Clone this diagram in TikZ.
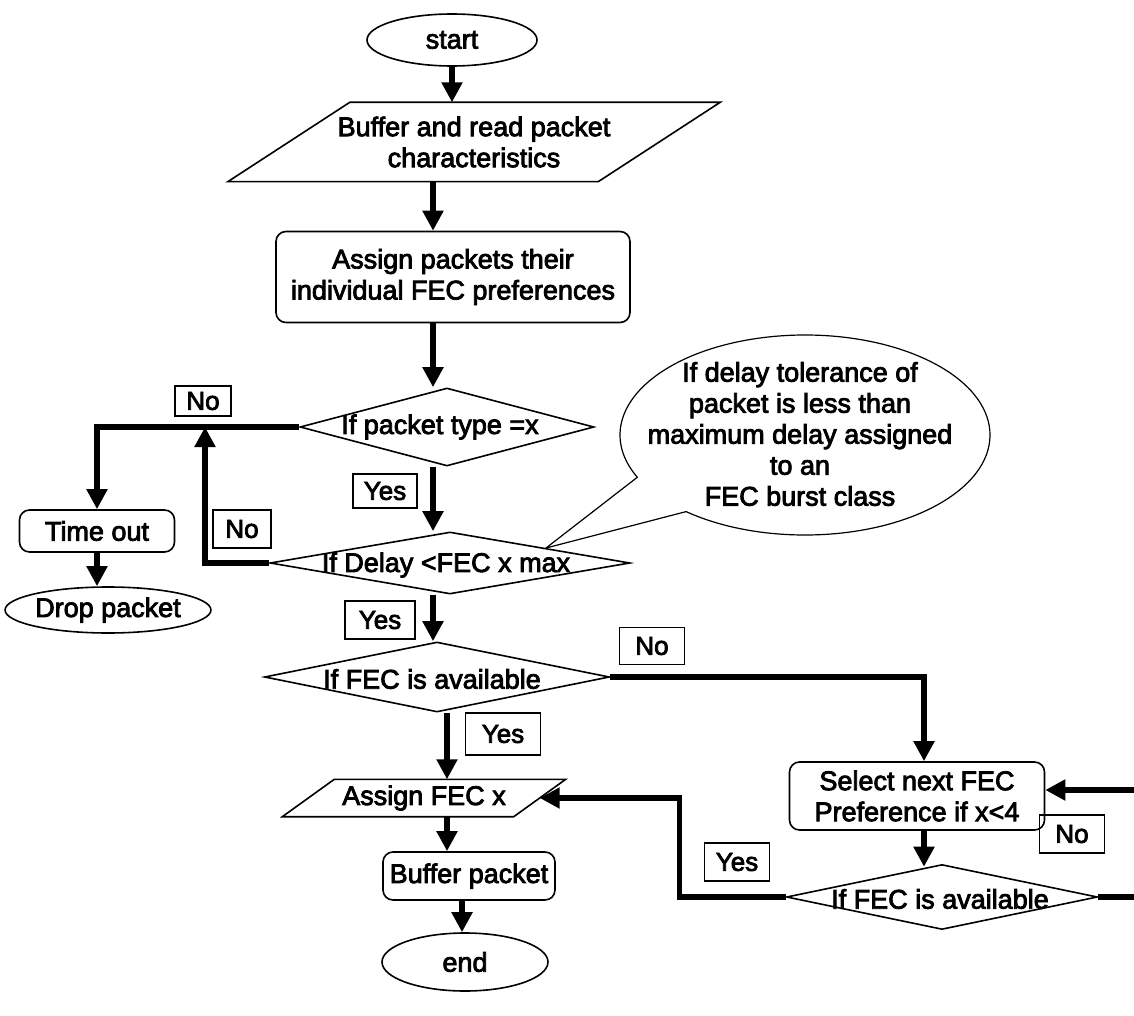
\documentclass[tikz,border=0pt]{standalone}
\usepackage{fontspec}
\setmainfont{Liberation Sans}[FakeBold=3]
\usetikzlibrary{shapes.geometric,arrows.meta,calc}
\begin{document}
\begin{tikzpicture}[x=1pt,y=-1pt,
  txt/.style={font=\fontsize{27}{31}\selectfont, align=center, inner sep=0pt},
  shp/.style={draw, line width=1.6pt},
  rbox/.style={shp, txt, rounded corners=10pt},
  ell/.style={shp, txt, ellipse},
  dia/.style={shp, diamond, inner sep=0pt},
  conn/.style={line width=5.5pt, -{Triangle[length=20pt,width=20pt]}},
  lbl/.style={draw, line width=1.2pt, inner sep=0pt, font=\fontsize{26}{30}\selectfont}
]
\clip (0,0) rectangle (1134,1016);
\fill[white] (0,0) rectangle (1134,1016);

% column coordinates
\coordinate (col1) at (433,0);
\coordinate (col2) at (447,0);
\coordinate (col3) at (462,0);
\coordinate (col4) at (924,0);
\coordinate (j1) at (205,427);

% nodes
\node[ell, minimum width=170pt, minimum height=52pt] (start) at (452,40) {start};

\node[txt, minimum width=370pt, minimum height=79pt] (buf) at (474,142) {Buffer and read packet\\characteristics};
\draw[shp] ([xshift=-61pt]buf.south west) -- ([xshift=61pt]buf.north west) -- ([xshift=61pt]buf.north east) -- ([xshift=-61pt]buf.south east) -- cycle;

\node[rbox, minimum width=354pt, minimum height=91pt] (assign) at (453,277) {Assign packets their\\individual FEC preferences};

\node[dia, minimum width=294pt, minimum height=78pt] (dia1) at (447,427) {};
\node[txt] (dia1t) at (440,427) {If packet type =x};

\node[dia, minimum width=360pt, minimum height=62pt] (dia2) at (450,563) {};
\node[txt] (dia2t) at (446,565) {If Delay <FEC x max};

\node[dia, minimum width=345pt, minimum height=70pt] (dia3) at (437,677) {};
\node[txt] (dia3t) at (432,679) {If FEC is available};

\node[rbox, minimum width=155pt, minimum height=42pt] (timeout) at (97,531) {Time out};
\node[ell, minimum width=195pt, minimum height=46pt] (drop) at (108,610) {Drop packet};

\node[txt, minimum width=231pt, minimum height=37pt] (afec) at (424,798) {Assign FEC x};
\draw[shp] ([xshift=-26pt]afec.south west) -- ([xshift=26pt]afec.north west) -- ([xshift=26pt]afec.north east) -- ([xshift=-26pt]afec.south east) -- cycle;

\node[rbox, minimum width=172pt, minimum height=48pt] (bufp) at (469,876) {Buffer packet};
\node[ell, minimum width=166pt, minimum height=58pt] (endn) at (465,962) {end};

\node[rbox, minimum width=255pt, minimum height=68pt] (select) at (917,796) {Select next FEC\\Preference if x<4};

\node[dia, minimum width=311pt, minimum height=65pt] (dia4) at (942,897) {};
\node[txt] (dia4t) at (940,899) {If FEC is available};

% callout
\coordinate (tip) at (546,548);
\draw[shp, line width=1.2pt, fill=white] (tip) -- ($(805,435)+({185*cos(130)},{100*sin(130)})$)
  arc[start angle=130, end angle=-205, x radius=185, y radius=100] -- cycle;
\node[txt] (callt) at (800,434) {If delay tolerance of\\packet is less than\\maximum delay assigned\\to an\\FEC burst class};

% connectors
\draw[conn] (start.south) -- (start.south |- buf.north);
\draw[conn] (col1 |- buf.south) -- (col1 |- assign.north);
\draw[conn] (col1 |- assign.south) -- (col1 |- dia1.north);
\draw[conn] (col1 |- dia1.south) -- (col1 |- dia2.north);
\draw[conn] (col1 |- dia2.south) -- (col1 |- dia3.north);
\draw[conn] (col2 |- dia3.south) -- (col2 |- afec.north);
\draw[conn] (col2 |- afec.south) -- (col2 |- bufp.north);
\draw[conn] (col3 |- bufp.south) -- (col3 |- endn.north);
\draw[conn] (dia1.west) -| (timeout.north);
\draw[conn] (dia2.west) -| (j1);
\draw[conn] (timeout.south) -- (timeout.south |- drop.north);
\draw[conn] (dia3.east) -| (col4 |- select.north);
\draw[conn] (col4 |- select.south) -- ([yshift=-3pt]col4 |- dia4.north);
\draw[conn] (dia4.west) -| ($(afec.east)+(140,0)$) -- (afec.east);
\draw[conn] (dia4.east) -- ++(70,0) |- ([yshift=6pt]select.east);

% labels
\node[lbl, minimum width=56pt, minimum height=30pt] (no1) at (203,401) {No};
\node[lbl, minimum width=58pt, minimum height=38pt] (no2) at (242,529) {No};
\node[lbl, minimum width=64pt, minimum height=34pt] (yes1) at (385,491) {Yes};
\node[lbl, minimum width=70pt, minimum height=38pt] (yes2) at (380,620) {Yes};
\node[lbl, minimum width=65pt, minimum height=37pt] (no3) at (652,646) {No};
\node[lbl, minimum width=75pt, minimum height=42pt] (yes3) at (503,734) {Yes};
\node[lbl, minimum width=65pt, minimum height=38pt] (yes4) at (737,862) {Yes};
\node[lbl, minimum width=65pt, minimum height=38pt] (no4) at (1072,834) {No};
\end{tikzpicture}
\end{document}
